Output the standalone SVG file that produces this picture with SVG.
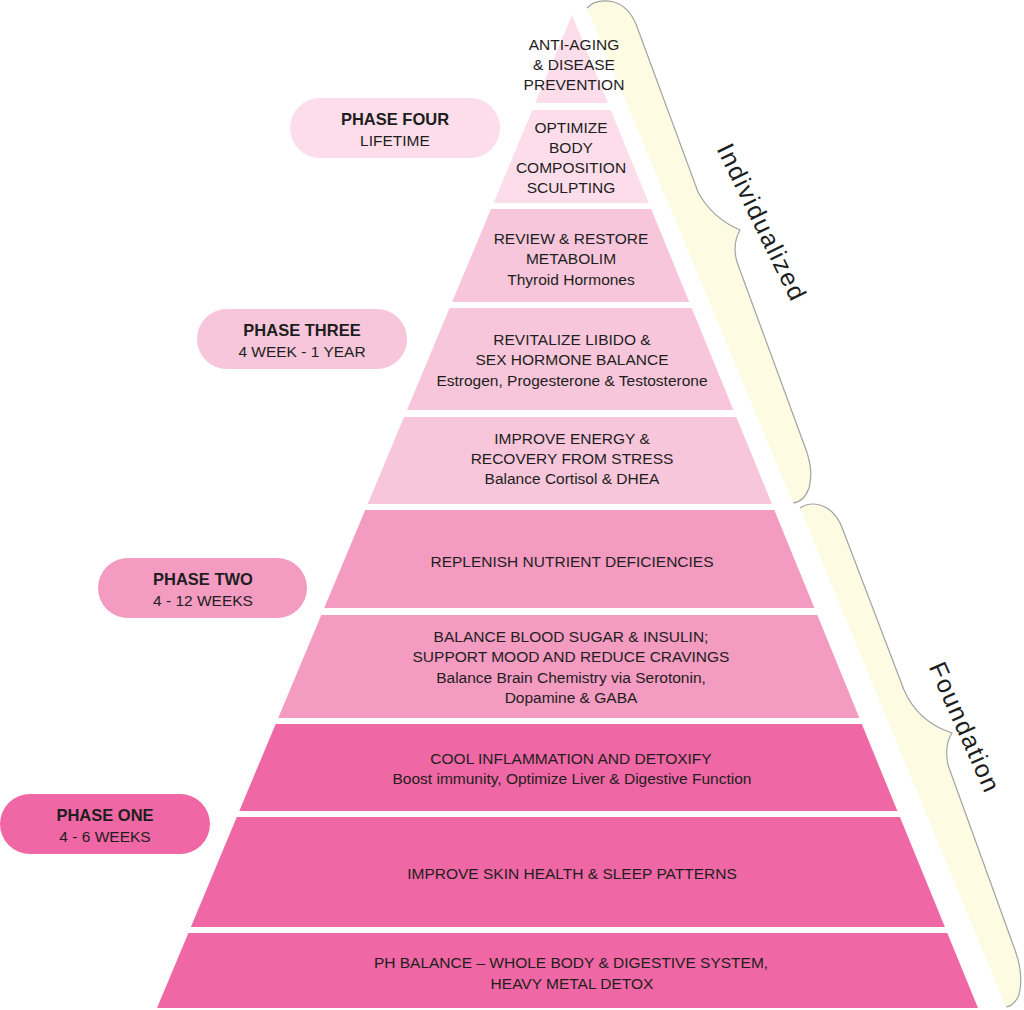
<svg xmlns="http://www.w3.org/2000/svg" width="1024" height="1010" viewBox="0 0 1024 1010">
<style>
.t{font-family:"Liberation Sans",Arial,sans-serif;font-size:15.5px;fill:#1e1e1e;text-anchor:middle}
.b{font-weight:bold;font-size:16.5px}
.c1{fill:#fcdde9}.c2{fill:#f7c6da}.c3{fill:#f39bc0}.c4{fill:#ef67a4}
.bf{fill:#fdfce3;stroke:none}
.bs{fill:none;stroke:#a3a3a3;stroke-width:1.2}
.lab{font-family:"Liberation Sans",Arial,sans-serif;font-size:25px;fill:#1e1e1e;text-anchor:middle}
</style>
<rect width="1024" height="1010" fill="#ffffff"/>

<g id="brace-individualized">
<path class="bf" d="M587,8 Q596,-2 614,2 Q628,6 636,24 L698,192 Q712,218 740,230 Q732,244 737,262 L805,447 Q814,470 809,488 Q804,502 793,503 Z"/>
<path class="bs" d="M587,8 Q596,-2 614,2 Q628,6 636,24 L698,192 Q712,218 740,230 Q732,244 737,262 L805,447 Q814,470 809,488 Q804,502 793,503"/>
<text class="lab" transform="translate(761,222) rotate(64)" y="8" textLength="171" lengthAdjust="spacing">Individualized</text>
</g>

<g id="brace-foundation">
<path class="bf" d="M800,508 Q812,500 827,508 Q838,515 843,530 L904,690 Q918,722 952,733 Q944,745 948,765 L1015,950 Q1024,975 1019,995 Q1014,1006 1006,1007 Z"/>
<path class="bs" d="M800,508 Q812,500 827,508 Q838,515 843,530 L904,690 Q918,722 952,733 Q944,745 948,765 L1015,950 Q1024,975 1019,995 Q1014,1006 1006,1007"/>
<text class="lab" transform="translate(964,727) rotate(66)" y="8" textLength="139" lengthAdjust="spacing">Foundation</text>
</g>

<g id="band1">
<polygon class="c1" points="572,15 607.9,103 535.3,103"/>
<text class="t" x="574" y="50">ANTI-AGING</text>
<text class="t" x="574" y="70">&amp; DISEASE</text>
<text class="t" x="574" y="90">PREVENTION</text>
</g>
<g id="band2">
<polygon class="c1" points="532.4,110 610.7,110 648.8,203 493.5,203"/>
<text class="t" x="571" y="133">OPTIMIZE</text>
<text class="t" x="571" y="153">BODY</text>
<text class="t" x="571" y="173">COMPOSITION</text>
<text class="t" x="571" y="193">SCULPTING</text>
</g>
<g id="band3">
<polygon class="c2" points="491,209 651.2,209 689.2,302 452.1,302"/>
<text class="t" x="571" y="244">REVIEW &amp; RESTORE</text>
<text class="t" x="571" y="264">METABOLIM</text>
<text class="t" x="571" y="285">Thyroid Hormones</text>
</g>
<g id="band4">
<polygon class="c2" points="449.6,308 691.7,308 733.4,410 407,410"/>
<text class="t" x="572" y="345">REVITALIZE LIBIDO &amp;</text>
<text class="t" x="572" y="365">SEX HORMONE BALANCE</text>
<text class="t" x="572" y="386">Estrogen, Progesterone &amp; Testosterone</text>
</g>
<g id="band5">
<polygon class="c2" points="404,417 736.3,417 771.9,504 367.7,504"/>
<text class="t" x="572" y="444">IMPROVE ENERGY &amp;</text>
<text class="t" x="572" y="464">RECOVERY FROM STRESS</text>
<text class="t" x="572" y="484">Balance Cortisol &amp; DHEA</text>
</g>
<g id="band6">
<polygon class="c3" points="365.2,510 774.3,510 814.4,608 324.2,608"/>
<text class="t" x="572" y="567">REPLENISH NUTRIENT DEFICIENCIES</text>
</g>
<g id="band7">
<polygon class="c3" points="321.3,615 817.3,615 859.4,718 278.2,718"/>
<text class="t" x="571" y="642">BALANCE BLOOD SUGAR &amp; INSULIN;</text>
<text class="t" x="571" y="662">SUPPORT MOOD AND REDUCE CRAVINGS</text>
<text class="t" x="571" y="683">Balance Brain Chemistry via Serotonin,</text>
<text class="t" x="571" y="703">Dopamine &amp; GABA</text>
</g>
<g id="band8">
<polygon class="c4" points="275.7,724 861.8,724 897.4,811 239.3,811"/>
<text class="t" x="571" y="764">COOL INFLAMMATION AND DETOXIFY</text>
<text class="t" x="572" y="784">Boost immunity, Optimize Liver &amp; Digestive Function</text>
</g>
<g id="band9">
<polygon class="c4" points="236.8,817 899.9,817 944.9,927 190.9,927"/>
<text class="t" x="572" y="879">IMPROVE SKIN HEALTH &amp; SLEEP PATTERNS</text>
</g>
<g id="band10">
<polygon class="c4" points="188.4,933 947.3,933 978,1008 157,1008"/>
<text class="t" x="571" y="968">PH BALANCE – WHOLE BODY &amp; DIGESTIVE SYSTEM,</text>
<text class="t" x="572" y="989">HEAVY METAL DETOX</text>
</g>

<g id="phase-four">
<rect class="c1" x="290" y="98" width="210" height="60" rx="30"/>
<text class="t b" x="395" y="125">PHASE FOUR</text>
<text class="t" x="395" y="146">LIFETIME</text>
</g>
<g id="phase-three">
<rect class="c2" x="197" y="309" width="210" height="60" rx="30"/>
<text class="t b" x="302" y="336">PHASE THREE</text>
<text class="t" x="302" y="357">4 WEEK - 1 YEAR</text>
</g>
<g id="phase-two">
<rect class="c3" x="98" y="558" width="209" height="60" rx="30"/>
<text class="t b" x="203" y="585">PHASE TWO</text>
<text class="t" x="203" y="606">4 - 12 WEEKS</text>
</g>
<g id="phase-one">
<rect class="c4" x="0" y="794" width="210" height="60" rx="30"/>
<text class="t b" x="105" y="821">PHASE ONE</text>
<text class="t" x="105" y="842">4 - 6 WEEKS</text>
</g>
<g id="connectors"/>
</svg>
